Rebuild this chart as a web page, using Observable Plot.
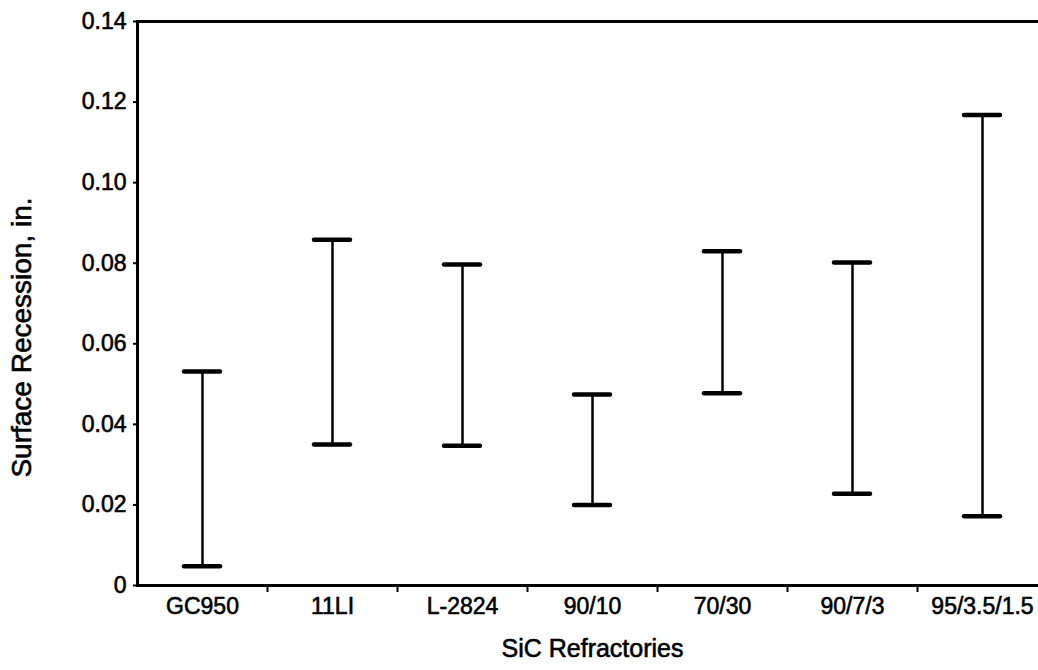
<!DOCTYPE html>
<html>
<head>
<meta charset="utf-8">
<script src="https://cdn.jsdelivr.net/npm/d3@7"></script>
<script src="https://cdn.jsdelivr.net/npm/@observablehq/plot@0.6"></script>
<style>
  html, body { margin: 0; padding: 0; background: #fff; }
  #chart svg { display: block; }
  #chart svg text { stroke: #000; stroke-width: 0.6px; }
</style>
</head>
<body>
<div id="chart"></div>
<script>
const categories = ["GC950", "11LI", "L-2824", "90/10", "70/30", "90/7/3", "95/3.5/1.5"];
const lowValues  = [0.0048, 0.0350, 0.0347, 0.0200, 0.0477, 0.0228, 0.0172];
const highValues = [0.0531, 0.0858, 0.0797, 0.0474, 0.0830, 0.0802, 0.1168];
const yTicks = [0, 0.02, 0.04, 0.06, 0.08, 0.10, 0.12, 0.14];

const data = categories.map((c, i) => ({ name: c, lo: lowValues[i], hi: highValues[i] }));

const W = 1038, H = 670;
const left = 137, right = 1047;
const band = (right - left) / categories.length;
const capInset = (band - 36) / 2;
const font = "'Liberation Sans', Arial, Helvetica, sans-serif";

const chart = Plot.plot({
  width: W,
  height: H,
  marginLeft: left,
  marginRight: W - right,
  marginTop: 21,
  marginBottom: 85,
  style: { fontFamily: font, fontSize: "23px", color: "#000", background: "#fff" },
  x: { domain: categories, padding: 0 },
  y: { domain: [0, 0.14], ticks: yTicks },
  marks: [
    Plot.frame({ stroke: "#000", strokeWidth: 3 }),
    Plot.axisY(yTicks, {
      tickSize: 4, strokeWidth: 2, tickPadding: 7, fontSize: 23,
      tickFormat: d => d === 0 ? "0" : d.toFixed(2),
      label: null
    }),
    Plot.axisX(categories.slice(1), {
      tickSize: 7, strokeWidth: 2, dx: -band / 2, tickFormat: () => "", label: null
    }),
    Plot.axisX(categories, {
      tickSize: 0, tickPadding: 12, fontSize: 23, label: null
    }),
    Plot.ruleX(data, { x: "name", y1: "lo", y2: "hi", stroke: "#000", strokeWidth: 2.5 }),
    Plot.tickY(data, { x: "name", y: "lo", stroke: "#000", strokeWidth: 4.5, strokeLinecap: "round", insetLeft: capInset, insetRight: capInset }),
    Plot.tickY(data, { x: "name", y: "hi", stroke: "#000", strokeWidth: 4.5, strokeLinecap: "round", insetLeft: capInset, insetRight: capInset }),
    Plot.text(["SiC Refractories"], { frameAnchor: "bottom", textAnchor: "middle", dy: 71, fontSize: 25, fill: "#000" }),
    Plot.text(["Surface Recession, in."], { frameAnchor: "left", textAnchor: "middle", dx: -115, dy: 34, rotate: -90, fontSize: 28, fill: "#000" })
  ]
});

document.getElementById("chart").appendChild(chart);
</script>
</body>
</html>
